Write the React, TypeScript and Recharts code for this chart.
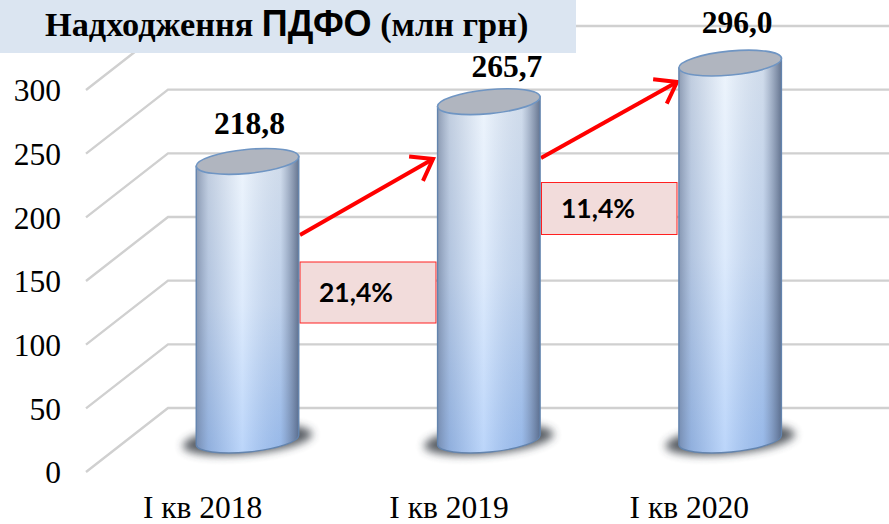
import React from 'react';
import { BarChart, Bar, XAxis, YAxis, CartesianGrid } from 'recharts';

const categories = ['I кв 2018', 'I кв 2019', 'I кв 2020'];
const values = [218.8, 265.7, 296.0];
const valueLabels = ['218,8', '265,7', '296,0'];
const yTicks = [0, 50, 100, 150, 200, 250, 300];
const rows = categories.map((name, i) => ({ name, value: values[i], label: valueLabels[i] }));

// 3D depth of the pseudo-perspective
const DEPTH_X = 82;
const DEPTH_Y = 64;
const labelShift = [[2, -27], [18, -25], [7, -30]];
const tickShift = [-4, 1, 0];
const SERIF = '"Liberation Serif", serif';

function Cylinder(props: any) {
  const { x, y, width, height, index, payload } = props;
  const cx = x + width / 2 + DEPTH_X / 2;
  const top = y - DEPTH_Y / 2;
  const bottom = y + height - DEPTH_Y / 2;
  const rx = width / 2;
  const ry = 12;
  const tilt = -5.5;
  const dx = rx * Math.cos((tilt * Math.PI) / 180);
  const dy = rx * Math.sin((tilt * Math.PI) / 180);
  const body = `M${cx - dx} ${top - dy} L${cx - dx} ${bottom - dy} A${rx} ${ry} ${tilt} 0 0 ${cx + dx} ${bottom + dy} L${cx + dx} ${top + dy} Z`;
  return (
    <g>
      <ellipse cx={cx} cy={bottom} rx={65} ry={14} fill="#33383f" opacity={0.8} filter="url(#soft)" transform={`rotate(${tilt} ${cx} ${bottom})`} />
      <path d={body} fill="url(#barV)" />
      <path d={body} fill="url(#barH)" stroke="#6384ae" strokeWidth={1.4} />
      <ellipse cx={cx} cy={top} rx={rx} ry={ry} fill="#b0b5bf" stroke="#6f95c3" strokeWidth={1.6} transform={`rotate(${tilt} ${cx} ${top})`} />
      <text
        x={cx + labelShift[index][0]}
        y={top + labelShift[index][1]}
        textAnchor="middle"
        fontFamily={SERIF}
        fontWeight="bold"
        fontSize={31.5}
        fill="#000"
      >
        {payload.label}
      </text>
    </g>
  );
}

function GridLine(props: any) {
  const { x1, y1, x2, key } = props;
  return (
    <polyline
      key={key}
      points={`${x1},${y1} ${x1 + DEPTH_X},${y1 - DEPTH_Y} ${x2 + 80},${y1 - DEPTH_Y}`}
      fill="none"
      stroke="#d0d0d0"
      strokeWidth={2.4}
    />
  );
}

function CategoryTick(props: any) {
  const { x, y, index, payload } = props;
  return (
    <text x={x + tickShift[index]} y={y + 38} textAnchor="middle" fontFamily={SERIF} fontSize={31.5} fill="#000">
      {payload.value}
    </text>
  );
}

function Arrow({ from, to }: { from: number[]; to: number[] }) {
  const a = Math.atan2(to[1] - from[1], to[0] - from[0]);
  const len = 24;
  const spread = 0.62;
  const p = (s: number) => `${to[0] - len * Math.cos(a + s)},${to[1] - len * Math.sin(a + s)}`;
  return (
    <g stroke="#ff0000" strokeWidth={4} fill="none">
      <line x1={from[0]} y1={from[1]} x2={to[0]} y2={to[1]} />
      <polyline points={`${p(spread)} ${to[0]},${to[1]} ${p(-spread)}`} />
    </g>
  );
}

function Note({ x, y, w, h, tx, text }: { x: number; y: number; w: number; h: number; tx: number; text: string }) {
  return (
    <g>
      <rect x={x} y={y} width={w} height={h} fill="#f2dcdb" stroke="#ff2020" strokeWidth={1} />
      <text x={tx} y={y + h / 2 + 9} fontFamily="Lato, sans-serif" fontWeight="bold" fontSize={26.5} fill="#000">
        {text}
      </text>
    </g>
  );
}

export default function App() {
  return (
    <div style={{ position: 'absolute', left: 0, top: 0, width: 889, height: 524, background: '#fff' }}>
      <BarChart
        width={889}
        height={524}
        data={rows}
        margin={{ top: 90, right: 79, bottom: 0, left: 0 }}
        barCategoryGap={0}
      >
        <defs>
          <linearGradient id="barV" x1="0" y1="0" x2="0" y2="1">
            <stop offset="0" stopColor="#e6f0fb" />
            <stop offset="0.5" stopColor="#cfe2fb" />
            <stop offset="1" stopColor="#9fc4f8" />
          </linearGradient>
          <linearGradient id="barH" x1="0" y1="0" x2="1" y2="0">
            <stop offset="0" stopColor="#5f6f8c" stopOpacity={0.65} />
            <stop offset="0.12" stopColor="#6f80a0" stopOpacity={0.3} />
            <stop offset="0.45" stopColor="#ffffff" stopOpacity={0.3} />
            <stop offset="0.82" stopColor="#6f80a0" stopOpacity={0.18} />
            <stop offset="1" stopColor="#4f5f7c" stopOpacity={0.85} />
          </linearGradient>
          <filter id="soft" x="-30%" y="-80%" width="160%" height="260%">
            <feGaussianBlur stdDeviation="4" />
          </filter>
        </defs>
        <CartesianGrid vertical={false} horizontal={GridLine as any} />
        <XAxis
          dataKey="name"
          axisLine={false}
          tickLine={false}
          interval={0}
          height={52}
          tick={CategoryTick as any}
        />
        <YAxis
          type="number"
          domain={[0, 300]}
          ticks={yTicks}
          axisLine={false}
          tickLine={false}
          width={86}
          tickMargin={19}
          tick={{ fontFamily: SERIF, fontSize: 31.5, fill: '#000' }}
        />
        <Bar dataKey="value" barSize={103} shape={Cylinder as any} isAnimationActive={false} />
        <Arrow from={[300, 235]} to={[433, 159]} />
        <Arrow from={[541, 158]} to={[677, 82]} />
        <Note x={300} y={262} w={136} h={61} tx={319} text="21,4%" />
        <Note x={541.5} y={182.5} w={135.5} h={52} tx={561} text="11,4%" />
        <rect x={0} y={0} width={576} height={53} fill="#dbe5f1" />
        <text x={45} y={36} fontFamily={SERIF} fontWeight="bold" fontSize={34.3} fill="#000">
          Надходження <tspan fontFamily='"Liberation Sans", sans-serif' fontSize={36}>ПДФО</tspan> (млн грн)
        </text>
      </BarChart>
    </div>
  );
}
